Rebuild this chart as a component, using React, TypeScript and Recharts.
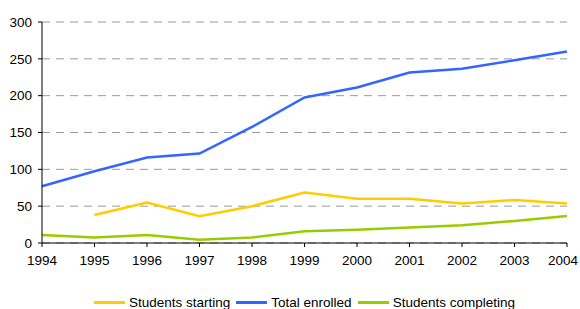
import React from "react";
import { LineChart, Line, XAxis, YAxis, CartesianGrid, Legend } from "recharts";

const years = ["1994", "1995", "1996", "1997", "1998", "1999", "2000", "2001", "2002", "2003", "2004"];
const studentsStarting: (number | null)[] = [null, 38, 55, 36.5, 50, 68.5, 60, 60, 53.5, 58.5, 53.5];
const totalEnrolled = [77, 97.5, 116, 121.5, 157.5, 197.5, 211, 231.5, 236.5, 248, 260];
const studentsCompleting = [11, 7.5, 11, 4.5, 7.5, 16, 18, 21, 24, 30, 36.5];
const yTicks = [0, 50, 100, 150, 200, 250, 300];
const seriesOrder = ["Students starting", "Total enrolled", "Students completing"];

const data = years.map((y, i) => ({
  year: y,
  starting: studentsStarting[i],
  total: totalEnrolled[i],
  completing: studentsCompleting[i],
}));

const FONT = "'Liberation Sans', Arial, sans-serif";

const XTick = (props: any) => {
  const { x, y, payload, index } = props;
  const last = index === years.length - 1;
  return (
    <text
      x={last ? x - 4 : x}
      y={y}
      dy="0.71em"
      textAnchor="middle"
      fill="#000"
      fontSize={13.5}
      fontFamily={FONT}
    >
      {payload.value}
    </text>
  );
};

const LegendContent = (props: any) => {
  const items = [...(props.payload || [])].sort(
    (a: any, b: any) => seriesOrder.indexOf(a.value) - seriesOrder.indexOf(b.value)
  );
  return (
    <div
      style={{
        display: "flex",
        justifyContent: "center",
        alignItems: "center",
        fontFamily: FONT,
        fontSize: 13.5,
        color: "#000",
        height: 16,
      }}
    >
      {items.map((p: any, i: number) => (
        <div key={i} style={{ display: "flex", alignItems: "center", marginRight: i < items.length - 1 ? 6 : 0 }}>
          <div style={{ width: 31, height: 3, background: p.color, marginRight: 4 }} />
          <span style={{ whiteSpace: "nowrap" }}>{p.value}</span>
        </div>
      ))}
    </div>
  );
};

export default function App() {
  return (
    <div style={{ position: "absolute", left: 0, top: 0, width: 580, height: 309, background: "#fff" }}>
      <LineChart width={580} height={309} data={data} margin={{ top: 22, right: 13, left: 0, bottom: 20 }}>
        <CartesianGrid vertical={false} stroke="#9a9a9a" strokeDasharray="8 6" />
        <XAxis
          dataKey="year"
          height={30}
          tickSize={4}
          tickMargin={8}
          axisLine={{ stroke: "#000" }}
          tickLine={{ stroke: "#000" }}
          tick={<XTick />}
          interval={0}
        />
        <YAxis
          width={42}
          domain={[0, 300]}
          ticks={yTicks}
          tickSize={4}
          tickMargin={6}
          axisLine={{ stroke: "#000" }}
          tickLine={{ stroke: "#000" }}
          tick={{ fill: "#000", fontSize: 13.5, fontFamily: FONT }}
          interval={0}
        />
        <Legend
          verticalAlign="bottom"
          content={<LegendContent />}
          wrapperStyle={{ top: 294, left: 42, width: 525, height: 16 }}
        />
        <Line type="linear" dataKey="starting" name="Students starting" stroke="#ffcc00" strokeWidth={2.5} dot={false} isAnimationActive={false} />
        <Line type="linear" dataKey="total" name="Total enrolled" stroke="#3366ff" strokeWidth={2.5} dot={false} isAnimationActive={false} />
        <Line type="linear" dataKey="completing" name="Students completing" stroke="#99cc00" strokeWidth={2.5} dot={false} isAnimationActive={false} />
      </LineChart>
    </div>
  );
}
